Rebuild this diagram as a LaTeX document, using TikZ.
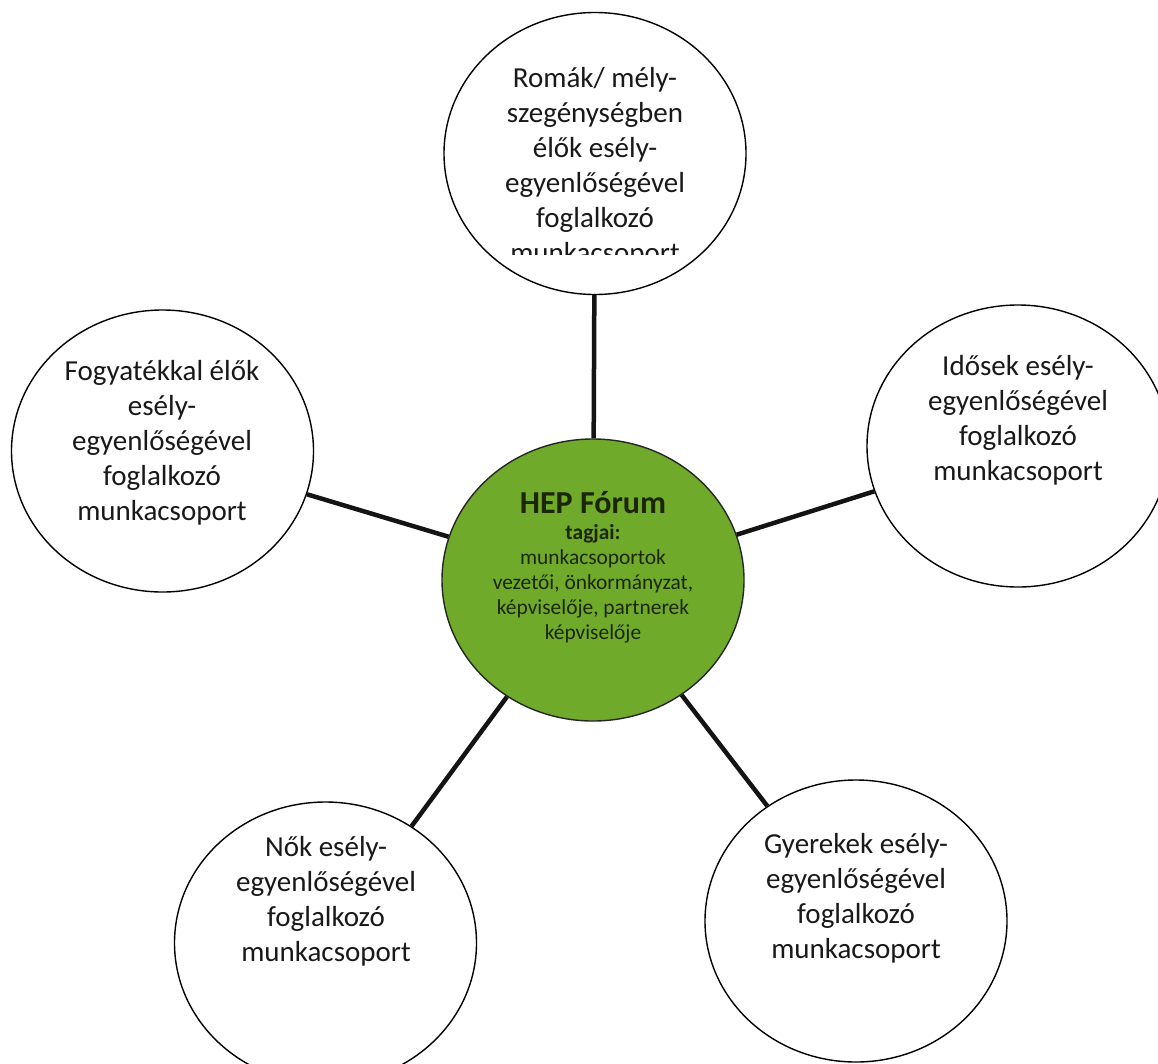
\documentclass[tikz,border=0pt]{standalone}
\usepackage{fontspec}
\setmainfont{Carlito}
\usetikzlibrary{shapes.geometric}
\definecolor{hepgreen}{RGB}{112,170,42}
\definecolor{heptext}{RGB}{28,38,6}
\tikzset{
  bubble/.style={ellipse, draw=black, line width=1.4pt, fill=white, minimum width=302pt, minimum height=282pt, inner sep=0pt},
  hub/.style={bubble, fill=hepgreen, draw=black!85},
  btext/.style={align=center, font=\fontsize{29}{35}\selectfont, text=black!90, inner sep=0pt},
  htext/.style={align=center, font=\fontsize{21.4}{25}\selectfont, text=heptext, inner sep=0pt},
  link/.style={line width=4.5pt, draw=black!92}
}
\begin{document}
\begin{tikzpicture}[x=1pt,y=-1pt]
\useasboundingbox (0,0) rectangle (1158,1063);
\fill[white] (0,0) rectangle (1158,1063);
% bubbles
\node[hub] (g) at (593,580) {};
\node[bubble] (t) at (595,153.5) {};
\node[bubble] (l) at (162.5,451) {};
\node[bubble] (r) at (1018,446) {};
\node[bubble] (bl) at (325.5,943) {};
\node[bubble] (br) at (856,921) {};
% connectors
\draw[link] (g) -- (t);
\draw[link] (g) -- (l);
\draw[link] (g) -- (r);
\draw[link] (g) -- (bl);
\draw[link] (g) -- (br);
% texts
\begin{scope}
\clip (440,0) rectangle (750,254);
\node[btext] (tt) at (595,167) {Romák/ mély-\\szegénységben\\élők esély-\\egyenlőségével\\foglalkozó\\munkacsoport};
\end{scope}
\node[btext] (lt) at (162,442.5) {Fogyatékkal élők\\esély-\\egyenlőségével\\foglalkozó\\munkacsoport};
\node[btext] (rt) at (1018,420) {Idősek esély-\\egyenlőségével\\foglalkozó\\munkacsoport};
\node[btext] (blt) at (326,901.5) {Nők esély-\\egyenlőségével\\foglalkozó\\munkacsoport};
\node[btext] (brt) at (856,898.5) {Gyerekek esély-\\egyenlőségével\\foglalkozó\\munkacsoport};
\node[htext] (gt) at (593,567.5) {{\fontsize{32}{34}\selectfont\bfseries HEP Fórum}\\[1pt]{\bfseries tagjai:}\\munkacsoportok\\vezetői, önkormányzat,\\képviselője, partnerek\\képviselője};
\end{tikzpicture}
\end{document}
